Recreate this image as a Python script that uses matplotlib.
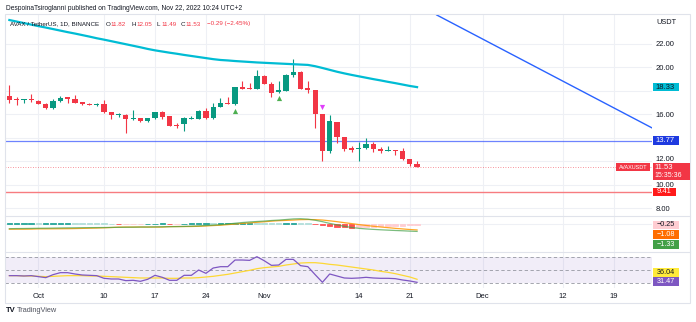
import numpy as np
import matplotlib
matplotlib.use('Agg')
import matplotlib.pyplot as plt
from matplotlib.patches import Rectangle
from matplotlib.lines import Line2D
from matplotlib.transforms import ScaledTranslation

plt.rcParams['font.family'] = ['Liberation Sans', 'DejaVu Sans']

W, H = 696, 322

# AVAX/USDT daily candles, Sep 27 - Nov 22 2022 (day 0 = Oct 1)
days = np.arange(-4, 53)
opens = [17.57, 17.30, 17.27, 17.35, 17.18, 16.92, 16.52, 17.12, 17.46, 17.35,
         17.04, 16.92, 16.78, 16.89, 16.21, 15.96, 15.96, 15.59, 15.67, 15.42,
         15.67, 16.18, 15.87, 15.13, 15.16, 15.65, 15.62, 16.33, 15.67, 16.64,
         17.01, 16.86, 18.31, 18.25, 18.20, 19.28, 18.60, 17.89, 18.03, 19.36,
         19.59, 18.23, 18.08, 16.01, 12.92, 15.39, 14.11, 13.12, 13.04, 13.12,
         13.49, 13.09, 12.86, 12.98, 12.92, 12.18, 11.82]
highs = [18.51, 17.52, 17.31, 17.74, 17.25, 16.95, 17.29, 17.57, 17.48, 17.66,
         17.09, 16.97, 16.95, 17.23, 16.25, 16.16, 16.01, 16.38, 15.72, 15.72,
         16.25, 16.33, 15.90, 15.30, 15.76, 15.87, 16.40, 16.52, 17.01, 17.38,
         17.52, 18.37, 18.85, 18.65, 19.79, 19.36, 18.77, 18.85, 19.42, 20.75,
         19.70, 18.85, 18.10, 16.01, 15.96, 15.39, 14.11, 13.32, 13.69, 13.97,
         13.69, 13.26, 13.32, 12.98, 13.12, 12.18, 12.05]
lows = [17.01, 16.81, 16.95, 17.09, 16.92, 16.50, 16.47, 17.10, 17.01, 16.95,
        16.81, 16.78, 16.75, 16.16, 15.59, 15.81, 14.45, 15.55, 15.40, 15.40,
        15.62, 15.59, 15.00, 14.88, 14.60, 15.60, 15.60, 15.60, 15.65, 16.60,
        16.86, 16.81, 18.14, 18.14, 18.18, 18.58, 17.46, 17.83, 18.00, 19.22,
        18.20, 17.80, 14.82, 12.07, 12.70, 13.55, 12.92, 12.84, 12.07, 13.04,
        12.84, 12.75, 12.86, 12.55, 12.13, 11.62, 11.49]
closes = [17.23, 17.26, 17.30, 17.20, 16.92, 16.52, 17.12, 17.40, 17.35, 17.01,
          16.86, 16.81, 16.92, 16.18, 15.96, 15.99, 15.62, 15.67, 15.42, 15.70,
          16.18, 15.81, 15.02, 15.02, 15.67, 15.68, 16.33, 15.67, 16.67, 16.98,
          16.86, 18.34, 18.20, 18.20, 19.28, 18.60, 17.86, 18.06, 19.33, 19.59,
          18.20, 18.06, 16.01, 12.92, 15.45, 14.11, 13.04, 12.98, 13.12, 13.49,
          13.04, 12.86, 13.01, 12.92, 12.18, 11.79, 11.53]
ma200 = [24.04, 23.91, 23.78, 23.65, 23.52, 23.40, 23.27, 23.14, 23.01, 22.89,
         22.76, 22.63, 22.49, 22.37, 22.24, 22.11, 21.98, 21.85, 21.72, 21.58,
         21.46, 21.36, 21.26, 21.17, 21.07, 20.98, 20.89, 20.80, 20.71, 20.64,
         20.60, 20.55, 20.51, 20.47, 20.43, 20.40, 20.37, 20.34, 20.31, 20.28,
         20.25, 20.22, 20.11, 19.96, 19.80, 19.64, 19.50, 19.37, 19.25, 19.13,
         19.01, 18.90, 18.78, 18.67, 18.55, 18.43, 18.33]

# signal arrows
buy_idx, buy_prices = [31, 37], [16.30, 17.38]
sell_idx, sell_prices = [43], [16.66]

# drawn trend line and horizontal levels
trend_days, trend_prices = [54.7, 84.3], [24.47, 14.85]
level_blue, level_red, last_price = 13.77, 9.41, 11.53

# MACD
macd = [-0.86, -0.84, -0.83, -0.81, -0.79, -0.78, -0.76, -0.74, -0.72, -0.71,
        -0.69, -0.68, -0.67, -0.66, -0.64, -0.63, -0.61, -0.60, -0.58, -0.57,
        -0.55, -0.53, -0.52, -0.50, -0.47, -0.43, -0.38, -0.31, -0.25, -0.17,
        -0.06, 0.08, 0.20, 0.30, 0.38, 0.45, 0.55, 0.62, 0.72, 0.82,
        0.86, 0.78, 0.60, 0.35, 0.05, -0.20, -0.45, -0.65, -0.80, -0.90,
        -0.98, -1.05, -1.11, -1.17, -1.22, -1.28, -1.33]
signal = [-0.95, -0.94, -0.94, -0.93, -0.89, -0.89, -0.88, -0.87, -0.86, -0.84,
          -0.81, -0.78, -0.75, -0.71, -0.66, -0.59, -0.58, -0.58, -0.57, -0.58,
          -0.58, -0.58, -0.50, -0.49, -0.49, -0.48, -0.45, -0.39, -0.32, -0.26,
          -0.16, -0.06, 0.05, 0.14, 0.24, 0.33, 0.44, 0.52, 0.57, 0.63,
          0.70, 0.72, 0.70, 0.63, 0.50, 0.35, 0.18, 0.02, -0.15, -0.30,
          -0.44, -0.57, -0.68, -0.80, -0.90, -1.00, -1.08]
hist = [0.09, 0.10, 0.11, 0.12, 0.10, 0.11, 0.12, 0.13, 0.14, 0.13,
        0.12, 0.10, 0.08, 0.05, 0.02, -0.04, -0.03, -0.02, -0.01, 0.01,
        0.03, 0.05, -0.02, -0.01, 0.02, 0.05, 0.07, 0.08, 0.07, 0.09,
        0.10, 0.14, 0.15, 0.16, 0.14, 0.12, 0.11, 0.10, 0.15, 0.19,
        0.16, 0.06, -0.10, -0.28, -0.45, -0.55, -0.63, -0.67, -0.65, -0.60,
        -0.54, -0.48, -0.43, -0.37, -0.32, -0.28, -0.25]

# RSI and its moving average
rsi = [41.5, 41.5, 41, 41.5, 40, 38.5, 43, 46, 46, 44,
       42.5, 42, 41.5, 37.5, 36.5, 36.5, 34, 34.5, 33, 36,
       42, 39, 34.5, 34.5, 42, 42, 50, 45, 53, 55,
       55, 65, 65, 64.5, 70, 64, 57, 57.5, 66, 66,
       56.5, 55, 43, 31.5, 44, 41, 38, 37.5, 38, 39,
       38, 37.5, 37.5, 37, 35, 33.5, 31.47]
rsi_ma = [41.5, 41.5, 41, 41, 40.5, 40, 40.5, 41, 41.5, 41.5,
          41.5, 41, 41, 40.5, 40, 39.5, 39, 38.5, 38, 38,
          38, 38, 37.5, 37.5, 38, 38, 38.5, 39.5, 40.5, 42,
          43.5, 45.5, 47.5, 49.5, 52, 53.5, 54.5, 55.5, 57.5, 59,
          60.5, 61, 61, 60, 58.5, 57.5, 56, 54.5, 53, 51.5,
          50, 48, 46.5, 44.5, 42, 39.5, 36.04]

# time axis labels
tick_days = [0, 9, 16, 23, 31, 44, 51, 61, 72, 79]
tick_labels = ['Oct', '10', '17', '24', 'Nov', '14', '21', 'Dec', '12', '19']
price_ticks = [8, 10, 12, 14, 16, 18, 20, 22]
# 14 and 18 sit under the price tags, so they get no label
price_labels = ['8.00', '10.00', '12.00', '', '16.00', '', '20.00', '22.00']

UP, DOWN = '#089981', '#f23645'
GRID, BORDER, TEXT = '#eef0f5', '#e0e3eb', '#131722'

fig = plt.figure(figsize=(W / 100, H / 100), dpi=100)
fig.patch.set_facecolor('white')


def pane(top, bottom, left=5, right=652):
    a = fig.add_axes([left / W, 1 - bottom / H, (right - left) / W, (bottom - top) / H])
    a.set_xlim(-4.6, 84.27)
    for s in a.spines.values():
        s.set_visible(False)
    a.set_xticks(tick_days)
    a.tick_params(axis='both', length=0, labelsize=5.5, labelcolor=TEXT)
    a.tick_params(axis='x', labelbottom=False)
    a.grid(True, axis='x', color=GRID, lw=0.8)
    a.set_axisbelow(True)
    return a


ax = pane(15, 215.5)
ax_macd = pane(215.5, 252)
ax_rsi = pane(252, 288)

# --- price pane ---
ax.set_ylim(7.404, 24.468)
ax.yaxis.tick_right()
ax.set_yticks(price_ticks)
ax.set_yticklabels(price_labels)
ax.tick_params(axis='y', pad=2.5)
ax.grid(True, axis='y', color=GRID, lw=0.8)
# lift "12.00" a touch so it stays clear of the last price tag
lbl12 = ax.get_yticklabels()[2]
lbl12.set_transform(lbl12.get_transform() + ScaledTranslation(0, 2 / 72, fig.dpi_scale_trans))

colors = [UP if c >= o else DOWN for o, c in zip(opens, closes)]
ax.vlines(days, lows, highs, colors=colors, lw=0.8, zorder=3)
bottoms = np.minimum(opens, closes)
heights = np.maximum(np.abs(np.subtract(closes, opens)), 0.05)
ax.bar(days, heights, bottom=bottoms, width=0.72, color=colors, zorder=4)

ax.plot(days, ma200, color='#00bcd4', lw=1.6, zorder=5)
ax.plot(trend_days, trend_prices, color='#2962ff', lw=1.0, zorder=5)
ax.axhline(level_blue, color='#3d5afe', lw=0.9, alpha=0.75, zorder=2)
ax.axhline(level_red, color='#f77c80', lw=1.0, zorder=2)
ax.axhline(last_price, color=DOWN, lw=0.6, ls=(0, (1, 2)), alpha=0.7, zorder=2)

ax.scatter(days[buy_idx], buy_prices, marker='^', s=14, color='#4caf50', lw=0, zorder=6)
ax.scatter(days[sell_idx], sell_prices, marker='v', s=14, color='#e040fb', lw=0, zorder=6)

# --- MACD pane ---
ax_macd.set_ylim(-4.88, 1.414)
ax_macd.set_yticks([0])
ax_macd.tick_params(axis='y', labelleft=False)
ax_macd.grid(True, axis='y', color=GRID, lw=0.8)

hist_colors = []
for i, h in enumerate(hist):
    prev = hist[i - 1] if i else h - 0.01
    if h >= 0:
        hist_colors.append('#26a69a' if h > prev else '#b2dfdb')
    else:
        hist_colors.append('#ffcdd2' if h > prev else '#ff5252')
ax_macd.bar(days, hist, width=0.75, color=hist_colors, edgecolor=hist_colors, lw=0.6, zorder=3)
ax_macd.plot(days, signal, color='#ff9800', lw=0.9, alpha=0.85, zorder=4)
ax_macd.plot(days, macd, color='#43a047', lw=0.9, alpha=0.7, zorder=4)

# --- RSI pane ---
ax_rsi.set_ylim(22.93, 77.07)
ax_rsi.set_yticks([])
ax_rsi.axhspan(30, 70, color='#7e57c2', alpha=0.1, lw=0)
for lvl in (70, 50, 30):
    ax_rsi.axhline(lvl, color='#9598a1', lw=0.6, ls=(0, (4, 3)))
ax_rsi.plot(days, rsi_ma, color='#fdd835', lw=0.9, zorder=3)
ax_rsi.plot(days, rsi, color='#7e57c2', lw=0.9, zorder=4)
ax_rsi.tick_params(axis='x', labelbottom=True, pad=3.5)
ax_rsi.set_xticklabels(tick_labels)

# frame and pane separators
fig.add_artist(Rectangle((5 / W, 1 - 303 / H), 685 / W, 289 / H, transform=fig.transFigure,
                         fill=False, ec=BORDER, lw=0.8))
for y in (215.5, 252):
    fig.add_artist(Line2D([5 / W, 690 / W], [1 - y / H] * 2, transform=fig.transFigure,
                          color=BORDER, lw=0.8))


def tag(yc, text, fc, tc='white', w=26, h=8.7, x0=652.5, fs=5.5):
    fig.add_artist(Rectangle((x0 / W, 1 - (yc + h / 2) / H), w / W, h / H,
                             transform=fig.transFigure, fc=fc, ec='none', zorder=10))
    fig.text((x0 + w / 2) / W, 1 - yc / H, text, ha='center', va='center',
             fontsize=fs, color=tc, zorder=11)


def ypx(a, v):
    return H - a.transData.transform((0, v))[1]


tag(ypx(ax, 18.33), '18.33', '#00bcd4', TEXT)
tag(ypx(ax, level_blue), f'{level_blue:.2f}', '#1e3ae0')
tag(ypx(ax, level_red), f'{level_red:.2f}', '#ff1a1a', w=23)

# last price tag with countdown and symbol tag
yl = ypx(ax, last_price)
fig.add_artist(Rectangle((652.5 / W, 1 - (yl + 13) / H), 37.5 / W, 17.3 / H,
                         transform=fig.transFigure, fc=DOWN, ec='none', zorder=10))
fig.text(654.5 / W, 1 - yl / H, f'{last_price:.2f}', va='center', fontsize=5.5, color='white', zorder=11)
fig.text(654.5 / W, 1 - (yl + 8.3) / H, '15:35:36', va='center', fontsize=5, color='white', zorder=11)
fig.add_artist(Rectangle((616 / W, 1 - (yl + 4.4) / H), 34 / W, 8.8 / H,
                         transform=fig.transFigure, fc=DOWN, ec='none', zorder=10))
fig.text(633 / W, 1 - yl / H, 'AVAXUSDT', ha='center', va='center', fontsize=4, color='white', zorder=11)

# indicator value tags (stacked)
tag(225.0, '\u22120.25', '#ffcdd2', TEXT, fs=5.2)
tag(234.7, '\u22121.08', '#ff6d00', fs=5.2)
tag(244.4, '\u22121.33', '#43a047', fs=5.2)
tag(272.3, '36.04', '#ffeb3b', TEXT, fs=5.2)
tag(281.8, '31.47', '#7e57c2', fs=5.2)

fig.text(656 / W, 1 - 23 / H, 'USDT', va='center', fontsize=5.3, color=TEXT)

# header and legend
fig.text(6 / W, 1 - 8 / H, 'DespoinaTsiroglanni published on TradingView.com, Nov 22, 2022 10:24 UTC+2',
         va='center', fontsize=4.8, color=TEXT)
fig.text(10 / W, 1 - 24 / H, 'AVAX / TetherUS, 1D, BINANCE', va='center', fontsize=4.5, color=TEXT)
for x, lbl, val in [(106, 'O', '11.82'), (131.5, 'H', '12.05'), (156.5, 'L', '11.49'), (181, 'C', '11.53')]:
    fig.text(x / W, 1 - 24 / H, lbl, va='center', fontsize=4.5, color=TEXT)
    fig.text((x + 4.8) / W, 1 - 24 / H, val, va='center', fontsize=4.5, color=DOWN)
fig.text(207 / W, 1 - 24 / H, '\u22120.29 (\u22122.45%)', va='center', fontsize=4.5, color=DOWN)

# footer logo
fig.text(6 / W, 1 - 311 / H, 'TV', va='center', fontsize=5.5, fontweight='bold', color=TEXT)
fig.text(16.5 / W, 1 - 311 / H, 'TradingView', va='center', fontsize=5.3, color='#50535e')

fig.savefig('out.png', dpi=100)
